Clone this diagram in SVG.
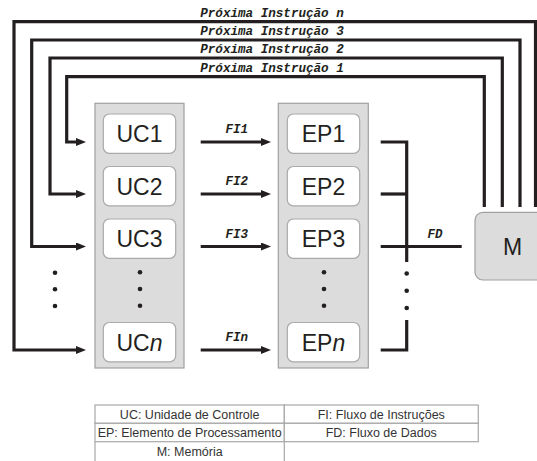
<svg xmlns="http://www.w3.org/2000/svg" width="537" height="461" viewBox="0 0 537 461">
<defs>
<marker id="ah" markerUnits="userSpaceOnUse" viewBox="0 0 10 8" refX="3" refY="4" markerWidth="10" markerHeight="8" orient="auto">
<path d="M0,0 L10,4 L0,8 z" fill="#231f20"/>
</marker>
<style>
.ln{fill:none;stroke:#231f20;stroke-width:3.2;stroke-linejoin:miter}
.arr{fill:none;stroke:#231f20;stroke-width:3.2;marker-end:url(#ah)}
.panel{fill:#dcdcdc;stroke:#a0a0a0;stroke-width:1.2}
.box{fill:#fff;stroke:#aaa;stroke-width:1.2}
.big{font-family:"Liberation Sans",Arial,sans-serif;font-size:23px;fill:#231f20;text-anchor:middle}
.mono{font-family:"Liberation Mono","Courier New",monospace;font-weight:bold;font-style:italic;fill:#231f20;text-anchor:middle}
.lbl{font-size:12.6px}
.fi{font-size:12.5px}
.dot{fill:#231f20}
.cell{fill:#fff;stroke:#a8a8a8;stroke-width:1.2}
.leg{font-family:"Liberation Sans",Arial,sans-serif;font-size:12.5px;fill:#333;text-anchor:middle}
</style>
</defs>

<g id="connectors">
<path class="arr" d="M484.3,207 V76.7 H66.7 V142 H79"/>
<path class="arr" d="M502.3,207 V58 H50 V194 H79"/>
<path class="arr" d="M520,207 V40 H31.7 V246.5 H79"/>
<path class="arr" d="M535.5,207 V21.7 H14 V350 H79"/>
<g class="dot"><circle cx="55" cy="272.7" r="2.3"/><circle cx="55" cy="289.3" r="2.3"/><circle cx="55" cy="306" r="2.3"/></g>
<path class="arr" d="M200.7,142 H264"/>
<path class="arr" d="M200.7,194 H264"/>
<path class="arr" d="M200.7,246.5 H264"/>
<path class="arr" d="M200.7,350 H264"/>
<path class="ln" d="M380.7,142 H406.7 V262"/>
<path class="ln" d="M380.7,194 H406.7"/>
<path class="ln" d="M380.7,246.5 H461.7"/>
<path class="ln" d="M380.7,350 H406.7 V320"/>
<g class="dot"><circle cx="406.7" cy="273.5" r="2.3"/><circle cx="406.7" cy="290.7" r="2.3"/><circle cx="406.7" cy="308" r="2.3"/></g>
<text class="mono lbl" x="272" y="17">Próxima Instrução n</text>
<text class="mono lbl" x="272" y="35">Próxima Instrução 3</text>
<text class="mono lbl" x="272" y="53">Próxima Instrução 2</text>
<text class="mono lbl" x="272" y="72">Próxima Instrução 1</text>
<text class="mono fi" x="236.7" y="133">FI1</text>
<text class="mono fi" x="236.7" y="185">FI2</text>
<text class="mono fi" x="236.7" y="237.5">FI3</text>
<text class="mono fi" x="236.7" y="341">FIn</text>
<text class="mono fi" x="435" y="238">FD</text>
</g>

<g id="uc-panel">
<rect class="panel" x="95" y="103.3" width="89" height="264.7"/>
<g class="dot"><circle cx="140" cy="272.3" r="2.3"/><circle cx="140" cy="289" r="2.3"/><circle cx="140" cy="305.7" r="2.3"/></g>
</g>
<g id="uc1"><rect class="box" x="103.3" y="114" width="72.4" height="39.3" rx="6"/><text class="big" x="139.5" y="142.3">UC1</text></g>
<g id="uc2"><rect class="box" x="103.3" y="166.5" width="72.4" height="39.3" rx="6"/><text class="big" x="139.5" y="194.8">UC2</text></g>
<g id="uc3"><rect class="box" x="103.3" y="219" width="72.4" height="39.3" rx="6"/><text class="big" x="139.5" y="247.3">UC3</text></g>
<g id="ucn"><rect class="box" x="103.3" y="322.5" width="72.4" height="39.3" rx="6"/><text class="big" x="139.5" y="350.8">UC<tspan font-style="italic">n</tspan></text></g>

<g id="ep-panel">
<rect class="panel" x="278.3" y="103.3" width="90" height="264.7"/>
<g class="dot"><circle cx="324" cy="272.3" r="2.3"/><circle cx="324" cy="289" r="2.3"/><circle cx="324" cy="305.7" r="2.3"/></g>
</g>
<g id="ep1"><rect class="box" x="287.3" y="114" width="72.4" height="39.3" rx="6"/><text class="big" x="323.5" y="142.3">EP1</text></g>
<g id="ep2"><rect class="box" x="287.3" y="166.5" width="72.4" height="39.3" rx="6"/><text class="big" x="323.5" y="194.8">EP2</text></g>
<g id="ep3"><rect class="box" x="287.3" y="219" width="72.4" height="39.3" rx="6"/><text class="big" x="323.5" y="247.3">EP3</text></g>
<g id="epn"><rect class="box" x="287.3" y="322.5" width="72.4" height="39.3" rx="6"/><text class="big" x="323.5" y="350.8">EP<tspan font-style="italic">n</tspan></text></g>

<g id="mem"><rect class="panel" x="475" y="212.3" width="75" height="67.7" rx="8"/><text class="big" x="512.5" y="255">M</text></g>

<g id="legend">
<rect class="cell" x="95" y="405" width="189.3" height="18.3"/>
<rect class="cell" x="284.3" y="405" width="194" height="18.3"/>
<rect class="cell" x="95" y="423.3" width="189.3" height="18.4"/>
<rect class="cell" x="284.3" y="423.3" width="194" height="18.4"/>
<path d="M95,441.7 V462 M284.3,441.7 V462" stroke="#a8a8a8" stroke-width="1.2" fill="none"/>
<text class="leg" x="189.7" y="419">UC: Unidade de Controle</text>
<text class="leg" x="381.3" y="419">FI: Fluxo de Instruções</text>
<text class="leg" x="189.7" y="437">EP: Elemento de Processamento</text>
<text class="leg" x="381.3" y="437">FD: Fluxo de Dados</text>
<text class="leg" x="189.7" y="456">M: Memória</text>
</g>
</svg>
